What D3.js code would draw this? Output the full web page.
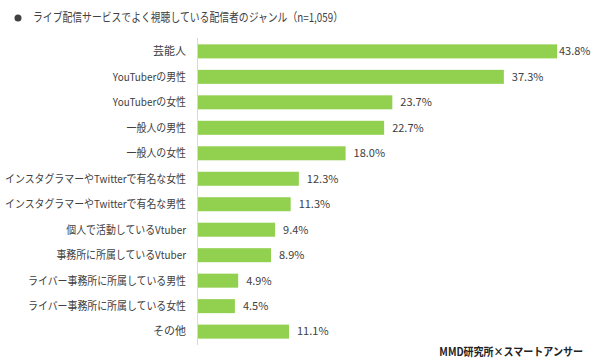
<!DOCTYPE html>
<html>
<head>
<meta charset="utf-8">
<script src="https://cdn.jsdelivr.net/npm/d3@7"></script>
<style>
body { margin: 0; background: #fff; }
text { font-family: "Noto Sans CJK JP", "Noto Sans", sans-serif; fill: #404040; }
</style>
</head>
<body>
<script>
var w = 600;
var h = 361;

var categories = ["芸能人", "YouTuberの男性", "YouTuberの女性", "一般人の男性", "一般人の女性",
    "インスタグラマーやTwitterで有名な女性", "インスタグラマーやTwitterで有名な男性",
    "個人で活動しているVtuber", "事務所に所属しているVtuber", "ライバー事務所に所属している男性",
    "ライバー事務所に所属している女性", "その他"];
var values = [43.8, 37.3, 23.7, 22.7, 18.0, 12.3, 11.3, 9.4, 8.9, 4.9, 4.5, 11.1];

var title = "ライブ配信サービスでよく視聴している配信者のジャンル（n=1,059）";
var source = "MMD研究所×スマートアンサー";

var svg = d3.select("body")
    .append("svg")
        .attr("width", w)
        .attr("height", h);

var x = d3.scaleLinear().domain([0, 50]).range([198, 608]);
var y = d3.scaleBand().domain(categories).range([38, 345]).paddingInner(0.45).paddingOuter(0.25);

// the original font is narrower than Noto, squeeze the long strings a bit
var squeeze = function(sel, f, minW) {
    sel.each(function() {
        var len = this.getComputedTextLength();
        if (len > minW) {
            d3.select(this).attr("textLength", len * f).attr("lengthAdjust", "spacingAndGlyphs");
        }
    });
}

// title
svg.append("circle").attr("cx", 18).attr("cy", 18).attr("r", 3.5).attr("fill", "#404040");
svg.append("text").attr("x", 33).attr("y", 22).attr("font-size", 12)
    .attr("textLength", 310).attr("lengthAdjust", "spacingAndGlyphs")
    .text(title);

svg.selectAll("rect.bar")
    .data(values)
    .enter()
    .append("rect")
        .attr("class", "bar")
        .attr("x", x(0))
        .attr("y", function(d, i) { return y(categories[i]); })
        .attr("width", function(d) { return x(d) - x(0); })
        .attr("height", y.bandwidth())
        .attr("fill", "#92d050");

// axis line
svg.append("line")
    .attr("x1", x(0) - 0.5).attr("x2", x(0) - 0.5)
    .attr("y1", 38).attr("y2", 345)
    .attr("stroke", "#d9d9d9");

svg.selectAll("text.cat")
    .data(categories)
    .enter()
    .append("text")
        .attr("class", "cat")
        .attr("x", 186)
        .attr("y", function(d) { return y(d) + y.bandwidth() / 2; })
        .attr("dy", "0.35em")
        .attr("text-anchor", "end")
        .attr("font-size", 11)
        .text(function(d) { return d; })
        .call(squeeze, 0.9, 60);

svg.selectAll("text.val")
    .data(values)
    .enter()
    .append("text")
        .attr("class", "val")
        .attr("x", function(d) { return Math.min(x(d) + 8, 559); })
        .attr("y", function(d, i) { return y(categories[i]) + y.bandwidth() / 2; })
        .attr("dy", "0.35em")
        .attr("font-size", 11)
        .text(function(d) { return d.toFixed(1) + "%"; });

svg.append("text")
    .attr("x", 583).attr("y", 356)
    .attr("text-anchor", "end")
    .attr("font-size", 11)
    .attr("font-weight", "bold")
    .style("fill", "#222")
    .text(source)
    .call(squeeze, 0.91, 0);
</script>
</body>
</html>
